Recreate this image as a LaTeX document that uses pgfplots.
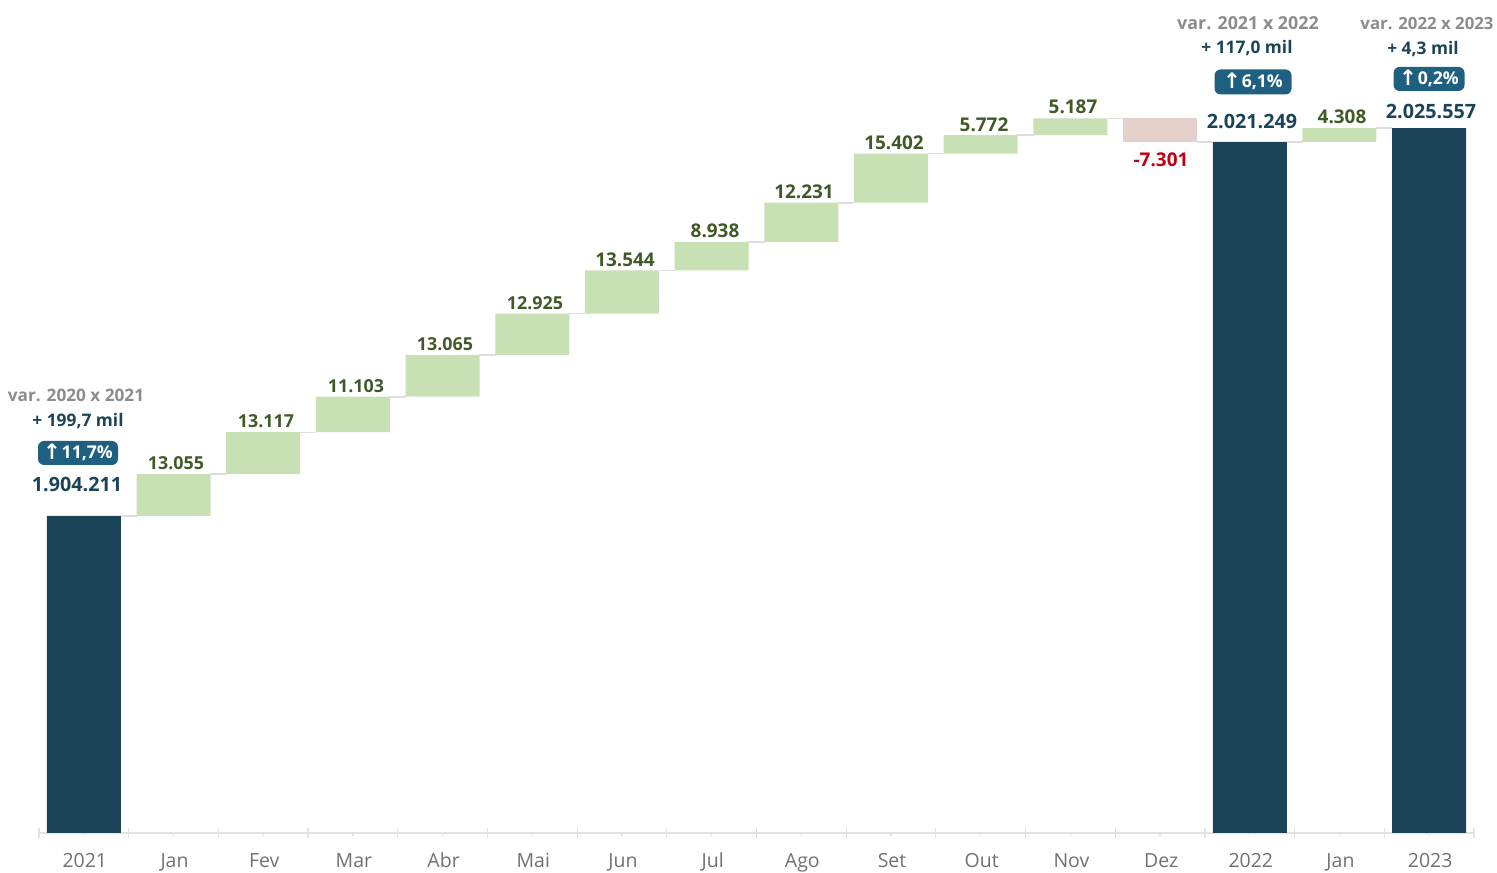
\documentclass[border=0pt]{standalone}
\usepackage{fontspec}
\setmainfont{Open Sans}
\newfontfamily\symfont{DejaVu Sans}
\usepackage{pgfplots}
\usepackage{pgfplotstable}
\pgfplotsset{compat=1.18}
\definecolor{navy}{HTML}{1C4459}
\definecolor{badge}{HTML}{1F5F80}
\definecolor{upfill}{HTML}{C7E0B4}
\definecolor{downfill}{HTML}{E5CFCB}
\definecolor{uptext}{HTML}{3F5A26}
\definecolor{downtext}{HTML}{C00010}
\definecolor{vargray}{HTML}{8C8C8C}
\definecolor{ticktext}{HTML}{707070}
\definecolor{axisgray}{HTML}{E2E2E2}
\definecolor{conn}{HTML}{DEDEDE}
\pgfplotstableread{
x base up down total
0 0 0 0 1904211
1 1904211 13055 0 0
2 1917266 13117 0 0
3 1930383 11103 0 0
4 1941486 13065 0 0
5 1954551 12925 0 0
6 1967476 13544 0 0
7 1981020 8938 0 0
8 1989958 12231 0 0
9 2002189 15402 0 0
10 2017591 5772 0 0
11 2023363 5187 0 0
12 2021249 0 7301 0
13 0 0 0 2021249
14 2021249 4308 0 0
15 0 0 0 2025557
}\wf
\newcommand{\fsz}[1]{\fontsize{#1}{#1}\selectfont}
\newcommand{\lab}[5]{\node[text=#4,font=\fsz{#3}\bfseries,inner sep=0pt] at (#1*0.75pt,{(872-#2-3)*0.75pt}) {\strut #5};}
\newcommand{\badgebox}[6]{% x y w h text
  \node[fill=badge,rounded corners=4.5pt,text=white,inner sep=0pt,minimum width=#3*0.75pt,minimum height=#4*0.75pt,font=\fsz{13.2}\bfseries] at (#1*0.75pt,{(872-#2)*0.75pt}) {\raisebox{-1pt}[0pt][0pt]{\fsz{16}\symfont\bfseries ↑}\hspace{0.5pt}#5};}
\begin{document}
\begin{tikzpicture}
\path[use as bounding box] (0,0) rectangle (1122.75pt,654pt);
\begin{axis}[at={(29.25pt,29.25pt)},anchor=south west,scale only axis,
  width=1076.25pt,height=624.75pt,xmin=-0.5,xmax=15.5,ymin=1805000,ymax=2065650,
  hide axis,clip=false,unbounded coords=jump]
\addplot[conn,line width=1.1pt,no markers] table[row sep=\\]{
x y\\
0.41 1904211\\ 0.59 1904211\\ nan nan\\
1.41 1917266\\ 1.59 1917266\\ nan nan\\
2.41 1930383\\ 2.59 1930383\\ nan nan\\
3.41 1941486\\ 3.59 1941486\\ nan nan\\
4.41 1954551\\ 4.59 1954551\\ nan nan\\
5.41 1967476\\ 5.59 1967476\\ nan nan\\
6.41 1981020\\ 6.59 1981020\\ nan nan\\
7.41 1989958\\ 7.59 1989958\\ nan nan\\
8.41 2002189\\ 8.59 2002189\\ nan nan\\
9.41 2017591\\ 9.59 2017591\\ nan nan\\
10.41 2023363\\ 10.59 2023363\\ nan nan\\
11.41 2028550\\ 11.59 2028550\\ nan nan\\
12.41 2021249\\ 12.59 2021249\\ nan nan\\
13.41 2021249\\ 13.59 2021249\\ nan nan\\
14.41 2025557\\ 14.59 2025557\\
};
\end{axis}
\begin{axis}[at={(29.25pt,29.25pt)},anchor=south west,scale only axis,
  width=1076.25pt,height=624.75pt,xmin=-0.5,xmax=15.5,ymin=1805000,ymax=2065650,
  ybar stacked,bar width=55.5pt,clip=true,
  axis x line=bottom,axis y line=none,
  axis line style={axisgray,line width=1.1pt,-},
  xtick={0,...,15},
  xticklabels={2021,Jan,Fev,Mar,Abr,Mai,Jun,Jul,Ago,Set,Out,Nov,Dez,2022,Jan,2023},
  major tick length=2pt,
  tick style={axisgray,line width=0.9pt},
  xtick pos=bottom,
  tick align=outside,
  extra x ticks={-0.5,0.5,1.5,2.5,3.5,4.5,5.5,6.5,7.5,8.5,9.5,10.5,11.5,12.5,13.5,14.5,15.5},
  extra x tick labels={},
  extra x tick style={major tick length=7pt,tick align=center},
  xticklabel style={font=\fsz{14.6},text=ticktext,anchor=base,yshift=-24pt,xshift=0.75pt},
]
\addplot[draw=none,fill=none,forget plot] table[x=x,y=base]{\wf};
\addplot[draw=none,fill=upfill] table[x=x,y=up]{\wf};
\addplot[draw=none,fill=downfill] table[x=x,y=down]{\wf};
\addplot[draw=none,fill=navy] table[x=x,y=total]{\wf};
\end{axis}
\lab{176}{463}{13.4}{uptext}{13.055}
\lab{266}{421}{13.4}{uptext}{13.117}
\lab{356}{386}{13.4}{uptext}{11.103}
\lab{445}{344}{13.4}{uptext}{13.065}
\lab{535}{303}{13.4}{uptext}{12.925}
\lab{625}{259}{14.2}{uptext}{13.544}
\lab{715}{230}{14.2}{uptext}{8.938}
\lab{804}{191}{14.2}{uptext}{12.231}
\lab{894}{142}{14.2}{uptext}{15.402}
\lab{984}{124}{14.2}{uptext}{5.772}
\lab{1073}{106}{14.2}{uptext}{5.187}
\lab{1161}{159}{14.2}{downtext}{-7.301}
\lab{1342}{116}{14.2}{uptext}{4.308}
\lab{77}{484}{14.8}{navy}{1.904.211}
\lab{1252}{121}{14.8}{navy}{2.021.249}
\lab{1431}{111}{14.8}{navy}{2.025.557}
\lab{76}{395}{12.9}{vargray}{var. 2020 x 2021}
\lab{78}{420}{13}{navy}{+ 199,7 mil}
\lab{1248}{23}{13.4}{vargray}{var. 2021 x 2022}
\lab{1247}{47}{13}{navy}{+ 117,0 mil}
\lab{1427}{23}{12.6}{vargray}{var. 2022 x 2023}
\lab{1423}{48}{13}{navy}{+ 4,3 mil}
\badgebox{78}{453}{80}{24}{11,7\%}{}
\badgebox{1253}{82}{77}{25}{6,1\%}{}
\badgebox{1429}{79}{71}{24}{0,2\%}{}
\end{tikzpicture}
\end{document}
